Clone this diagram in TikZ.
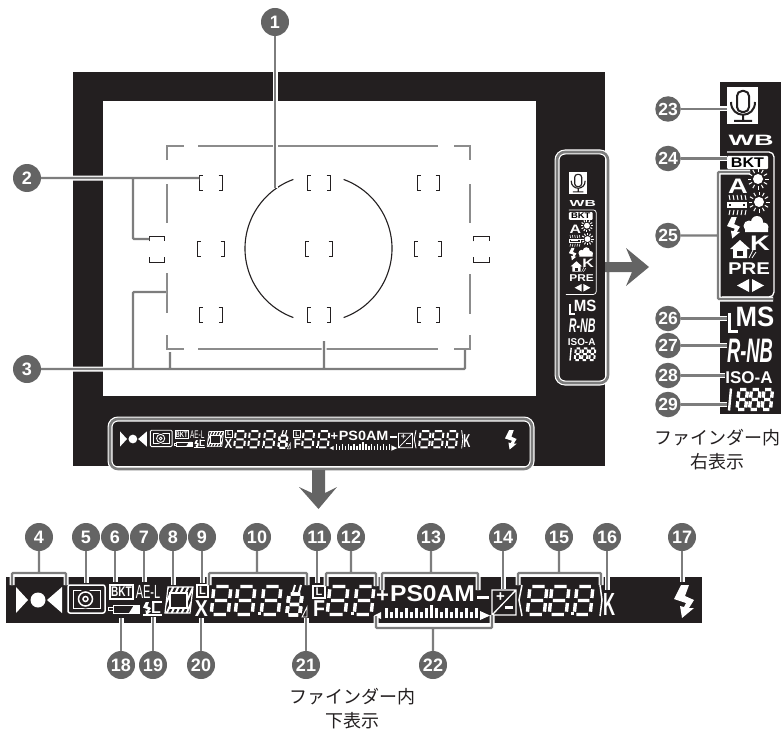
\documentclass[tikz,border=0pt]{standalone}
\usepackage{graphicx}
\usepackage{fontspec}
\setsansfont{Liberation Sans}
\newfontfamily\cjkfont{Noto Sans CJK JP}
\usepackage{tikz}
\definecolor{frameblack}{RGB}{35,31,32}
\definecolor{leadgray}{RGB}{125,125,125}
\definecolor{numgray}{RGB}{100,100,100}
\definecolor{dashgray}{RGB}{140,140,140}
\tikzset{
  num/.style={circle,fill=numgray,text=white,inner sep=0pt,minimum size=28pt,font=\sffamily\bfseries\fontsize{18}{18}\selectfont},
  numside/.style={num,minimum size=25.5pt,font=\sffamily\bfseries\fontsize{17.5}{17.5}\selectfont},
  leader/.style={draw=leadgray,line width=2.4pt,rounded corners=1pt,preaction={draw=white,line width=5pt}},
  ring/.style={draw=leadgray,line width=2.6pt,rounded corners=8pt,preaction={draw=white,line width=5pt}},
  lcd/.style={text=white,inner sep=0pt,font=\sffamily\bfseries},
  caption/.style={align=center,inner sep=0pt,text=frameblack,font=\cjkfont\fontsize{18}{24}\selectfont}
}
\newcommand{\fs}[1]{\fontsize{#1}{#1}\selectfont}
% one eight segment digit: x, y, width, height, line factor
\newcommand{\segdigit}[5]{%
  \begin{scope}[shift={(#1,#2)},xslant=.1,xscale=#3,yscale=#4]
    \draw[white,line width=#5*3.4pt]
      (.14,0) -- (.86,0) (.14,.5) -- (.86,.5) (.14,1) -- (.86,1)
      (0,.1) -- (0,.41) (1,.1) -- (1,.41) (0,.59) -- (0,.9) (1,.59) -- (1,.9);
  \end{scope}}
% focus point: left, right, top, bottom
\newcommand{\fpoint}[4]{%
  \draw[frameblack,line width=1pt] (#1+3.5,#3) -- (#1,#3) -- (#1,#4) -- (#1+3.5,#4)
    (#2-3.5,#3) -- (#2,#3) -- (#2,#4) -- (#2-3.5,#4);}
\newcommand{\boltat}[3]{%
  \fill[white,shift={(#1,#2)},scale=#3] (7,0) -- (15,0) -- (11,11) -- (20,15) -- (15,23) -- (20,23)
    -- (8,33) -- (6,21) -- (10,22) -- (12,18) -- (0,14) -- cycle;}
\newcommand{\sunat}[3]{%
  \fill[white] (#1,#2) circle (#3pt);
  \foreach \a in {0,30,...,330}
    \draw[white,line width=#3*.2pt] (#1,#2) ++(\a:#3*1.35pt) -- ++(\a:#3*.75pt);}
% bottom display, drawn at the size of the enlarged strip
\newcommand{\stripicons}[1]{%
  \fill[white] (16,587) -- (28,600) -- (16,613) -- cycle (62,587) -- (47,600) -- (62,613) -- cycle;
  \fill[white] (38,600) circle (7.5pt);
  % metering
  \draw[white,line width=#1*1.5pt,rounded corners=#1*2pt] (68,585) rectangle (105,613);
  \draw[white,line width=#1*1pt] (73,590) rectangle (100,608);
  \fill[frameblack] (85.5,599) circle (9.5pt);
  \draw[white,line width=#1*1.5pt] (85.5,599) circle (7pt) (85.5,599) circle (2.5pt);
  % bracketing, AE lock, battery
  \draw[white,line width=#1*1.2pt] (110,585) rectangle (133,599);
  \node[lcd] (bktstrip) at (121.5,592) {\fs{14}\scalebox{.72}[1]{BKT}};
  \node[lcd] (aelstrip) at (148,592) {\fs{19}\mdseries\scalebox{.58}[1]{AE-L}};
  \draw[white,line width=#1*1pt] (113,605) rectangle (139,613) (108,607.5) rectangle (113,610.5);
  \fill[white] (129,613) -- (134,605) -- (139,605) -- (139,613) -- cycle;
  % flash lock
  \boltat{143}{602}{.4}
  \node[lcd] (lflash) at (156,608) {\fs{16}L};
  \draw[white,line width=#1*1.2pt] (143,615) -- (162,615) (152,602) -- (162,602);
  % frame coverage
  \begin{scope}
    \clip (168,587) -- (193,587) -- (190,613) -- (165,613) -- cycle;
    \foreach \d in {0,5,...,45}
      \draw[white,line width=#1*2pt] (155+\d,617) -- (170+\d,583);
  \end{scope}
  \draw[white,line width=#1*1.2pt] (168,587) -- (193,587) -- (190,613) -- (165,613) -- cycle;
  \fill[frameblack] (170,593) rectangle (187,608);
  \draw[white,line width=#1*1.3pt] (170,593) rectangle (187,608);
  % shutter group
  \draw[white,fill=frameblack,line width=#1*1.5pt] (197,585) rectangle (208,597);
  \node[lcd] (lshutter) at (202.5,591) {\fs{11}L};
  \node[lcd] (xsync) at (201.5,609) {\fs{23}\scalebox{.85}[1]{X}};
  \foreach \x in {214,238,264}
    \segdigit{\x}{586.5}{17}{28}{#1}
  \segdigit{289}{594}{13}{21}{#1}
  \fill[white] (258,612) rectangle (261,615);
  \draw[white,line width=#1*2pt] (295,585) -- (293,592) (301,585) -- (299,592);
  \draw[white,line width=#1*.9pt] (302,617) -- (307,607) -- (307,617) -- cycle;
  % aperture group
  \draw[white,fill=frameblack,line width=#1*1.5pt] (313,586) rectangle (325,598);
  \node[lcd] (lfstop) at (319,592) {\fs{11}L};
  \node[lcd] (fstop) at (319,609) {\fs{23}\scalebox{.85}[1]{F}};
  \segdigit{330}{586.5}{18}{28}{#1}
  \segdigit{357}{586.5}{17}{28}{#1}
  \fill[white] (351,612) rectangle (354,615);
  % mode letters and exposure bar
  \node[lcd] (plus) at (382.5,596) {\fs{22}+};
  \node[lcd] (modes) at (432.5,594) {\fs{23}\scalebox{1.07}[1]{PS0AM}};
  \fill[white] (374,615.5) -- (381,612) -- (381,619) -- cycle (490,615.5) -- (480,611) -- (480,620) -- cycle;
  \foreach \t [count=\i from 0] in {608,612,608,612,608,612,608,612,608,605,608,612,608,612,608,612,608,612,608}
    \fill[white] (385+5*\i,\t) rectangle (387.5+5*\i,618);
  \fill[white] (477,595.5) rectangle (489,598.5);
  % compensation mark
  \draw[white,line width=#1*1.3pt] (492,590) rectangle (516,615) (492,615) -- (516,590);
  \node[lcd] (pm) at (500.5,597) {\fs{15}+};
  \fill[white] (505,606) rectangle (513,609);
  % flash compensation digits
  \draw[white,line width=#1*1.5pt] (522,585) -- (519,600) -- (522,616) (600,585) -- (602,600) -- (600,616);
  \segdigit{530}{586.5}{17}{28}{#1}
  \segdigit{552}{586.5}{17}{28}{#1}
  \segdigit{577}{586.5}{16}{28}{#1}
  \fill[white] (571,612) rectangle (574,615);
  \node[lcd] (kelvin) at (609,604) {\fs{32}\scalebox{.52}[1]{K}};
  \boltat{674}{585}{1}}
% side display, drawn at the size of the enlarged column
\newcommand{\sideicons}[1]{%
  % microphone
  \fill[white] (727,87) rectangle (758,124);
  \draw[frameblack,line width=#1*2pt,rounded corners=#1*5pt] (737,91) rectangle (749,112);
  \draw[frameblack,line width=#1*2pt] (731,102) .. controls (731,119) and (755,119) .. (755,102)
    (743,115) -- (743,121) (734,121) -- (752,121);
  \node[lcd] (wbmark) at (751,140.5) {\fs{15}\scalebox{1.8}[1]{WB}};
  \draw[white,line width=#1*1.3pt,rounded corners=#1*5pt] (727,152) -- (774,152) -- (774,297) -- (722,297);
  \fill[white,rounded corners=1pt] (727,156) rectangle (768,169);
  \node[lcd,text=black] (bktside) at (747.5,162.5) {\fs{14}\scalebox{1.15}[1]{BKT}};
  \node[lcd] (amark) at (738,186) {\fs{21}\scalebox{1.3}[1]{A}};
  % white balance icons
  \sunat{758}{179}{5}
  \sunat{759}{202}{5}
  \draw[white,line width=#1*1.2pt] (728,203) rectangle (746,207);
  \fill[white] (731,204) rectangle (743,206);
  \foreach \x in {730,734,...,746}
    \draw[white,line width=#1*1pt] (\x-1,195) -- (\x,200) (\x,210) -- (\x-1,215);
  \boltat{727}{217}{.65}
  \fill[white] (749,226) circle (5.5pt) (757,222) circle (6pt) (764,227) circle (4.5pt) (745,226) rectangle (768,232);
  \node[lcd] (kside) at (760,243) {\fs{21}\scalebox{1.3}[1]{K}};
  \fill[white] (740,240) -- (750,249) -- (730,249) -- cycle (733,249) rectangle (747,258);
  \fill[frameblack] (737,251) rectangle (743,256);
  \draw[white,line width=#1*.8pt] (749,258) -- (753,250) (752,258) -- (756,252);
  \node[lcd] (premark) at (749,269) {\fs{17}\scalebox{1.2}[1]{PRE}};
  \fill[white] (749,279) -- (749,292) -- (737,285.5) -- cycle (752,279) -- (752,292) -- (764,285.5) -- cycle;
  % quality and size
  \draw[white,line width=#1*3pt] (729,313) -- (729,331) -- (738,331);
  \node[lcd] (msmark) at (755,317) {\fs{28}\scalebox{.92}[1]{MS}};
  \node[lcd] (rawmark) at (750,350.5) {\fs{34}\itshape\scalebox{.54}[1]{R-NB}};
  \node[lcd] (isomark) at (749,378) {\fs{17}ISO-A};
  % frame count
  \draw[white,line width=#1*2.4pt] (731,388.5) -- (729,410.5);
  \segdigit{739}{389.5}{8.5}{20}{#1}
  \segdigit{751.5}{389.5}{8.5}{20}{#1}
  \segdigit{764}{389.5}{8.5}{20}{#1}}
\begin{document}
\begin{tikzpicture}[x=1pt,y=-1pt]
\useasboundingbox (0,0) rectangle (783,730);
% FRAME: black surround and white view
\fill[frameblack] (73,72) rectangle (605,466);
\fill[white] (103,101) rectangle (536,396);
% focus frame
\draw[dashgray,line width=2.5pt] (167,160) -- (167,146) -- (184,146) (198,146) -- (438,146)
  (454,146) -- (470,146) -- (470,160) (167,184) -- (167,223) (167,273) -- (167,313)
  (470,184) -- (470,223) (470,274) -- (470,314)
  (167,335) -- (167,349) -- (184,349) (198,349) -- (438,349) (454,349) -- (470,349) -- (470,335);
% focus points
\foreach \xa/\xb in {199/222,307/330,417/439}{
  \fpoint{\xa}{\xb}{175}{190}
  \fpoint{\xa}{\xb}{307}{322}
}
\foreach \xa/\xb in {197/224,305/332,414/441}
  \fpoint{\xa}{\xb}{241}{256}
\draw[frameblack,line width=1pt] (149,241) -- (149,236) -- (164,236) -- (164,241)
  (149,257) -- (149,262) -- (164,262) -- (164,257)
  (473,241) -- (473,236) -- (489,236) -- (489,241)
  (473,257) -- (473,262) -- (489,262) -- (489,257);
% metering circle
\draw[frameblack,line width=1.1pt] (318.5,248.5) ++(110:73.5pt) arc[start angle=110,end angle=250,radius=73.5pt];
\draw[frameblack,line width=1.1pt] (318.5,248.5) ++(-70:73.5pt) arc[start angle=-70,end angle=70,radius=73.5pt];

% BOTTOM: small display inside the frame
\begin{scope}[shift={(110.64,88)},scale=.585,transform shape]
  \stripicons{.585}
\end{scope}
\draw[ring] (110,419) rectangle (532,469);

% RIGHT: small display inside the frame
\begin{scope}[shift={(145,121.3)},scale=.583,transform shape]
  \sideicons{.583}
\end{scope}
\draw[ring] (557,152) rectangle (608,383);

% gray arrows between the displays
\fill[numgray] (605,262) -- (632,262) -- (626,248) -- (649,267) -- (626,286) -- (632,272) -- (605,272) -- cycle;
\fill[numgray] (312,470) -- (325,470) -- (325,493) -- (337,487) -- (318.5,509) -- (299,487) -- (312,493) -- cycle;

% enlarged displays
\fill[frameblack] (6,577) rectangle (702,623);
\stripicons{1}
\fill[frameblack] (720,82) rectangle (781,414);
\sideicons{1}

% VIEW: numbered leaders
\node[num] (n1) at (275,22) {1};
\coordinate (e1) at (275,188);
\draw[leader] (n1) -- (e1);
\node[num] (n2) at (27,178) {2};
\coordinate (e2) at (199,178);
\coordinate (e2b) at (133,178);
\coordinate (e2c) at (149,239);
\draw[leader] (n2) -- (e2) (e2b) |- (e2c);
\node[num] (n3) at (27,369) {3};
\coordinate (e3) at (465,350);
\coordinate (e3b) at (133,369);
\coordinate (e3c) at (166,292);
\coordinate (e3d) at (170,352);
\coordinate (e3e) at (324,341);
\draw[leader] (n3) -| (e3) (e3b) |- (e3c) (e3b -| e3d) -- (e3d) (e3b -| e3e) -- (e3e);

% STRIP: numbers above
\foreach \n/\x/\e in {5/86/583,6/115/582,7/144/582,8/173/585,9/202/583,11/317/583,14/503/589,16/607/590,17/682/582}{
  \node[num] (n\n) at (\x,537) {\n};
  \coordinate (e\n) at (\x,\e);
  \draw[leader] (n\n) -- (e\n);
}
\foreach \n/\x/\l/\r/\e in {4/39/12/66/585,10/257/209/307/585,12/351/326/376/586,13/431/382/478/590,15/559/518/601/585}{
  \node[num] (n\n) at (\x,537) {\n};
  \coordinate (c\n) at (\x,573);
  \coordinate (l\n) at (\l,\e);
  \coordinate (r\n) at (\r,\e);
  \draw[leader] (n\n) -- (c\n) (l\n) |- (c\n) -| (r\n);
}
% STRIP: numbers below
\foreach \n/\x/\e in {18/121/618,19/153/617,20/201/618,21/306/618}{
  \node[num] (n\n) at (\x,665) {\n};
  \coordinate (e\n) at (\x,\e);
  \draw[leader] (n\n) -- (e\n);
}
\node[num] (n22) at (433,665) {22};
\coordinate (c22) at (433,628);
\coordinate (l22) at (376,616);
\coordinate (r22) at (492,615);
\draw[leader] (n22) -- (c22) (l22) |- (c22) -| (r22);

% COLUMN: numbers on the left
\foreach \n/\y/\e in {23/109/727,24/158.5/727,26/318.5/727,27/345.5/727,28/375.5/725,29/404.5/727}{
  \node[numside] (n\n) at (668,\y) {\n};
  \coordinate (e\n) at (\e,\y);
  \draw[leader] (n\n) -- (e\n);
}
\node[numside] (n25) at (668,235.5) {25};
\coordinate (c25) at (718,235.5);
\coordinate (t25) at (750,172);
\coordinate (b25) at (773,299);
\draw[leader] (n25) -- (c25) (t25) -| (c25) |- (b25);

% captions
\node[caption] (capbottom) at (352,709) {ファインダー内\\下表示};
\node[caption] (capright) at (717,450) {ファインダー内\\右表示};
\end{tikzpicture}
\end{document}
